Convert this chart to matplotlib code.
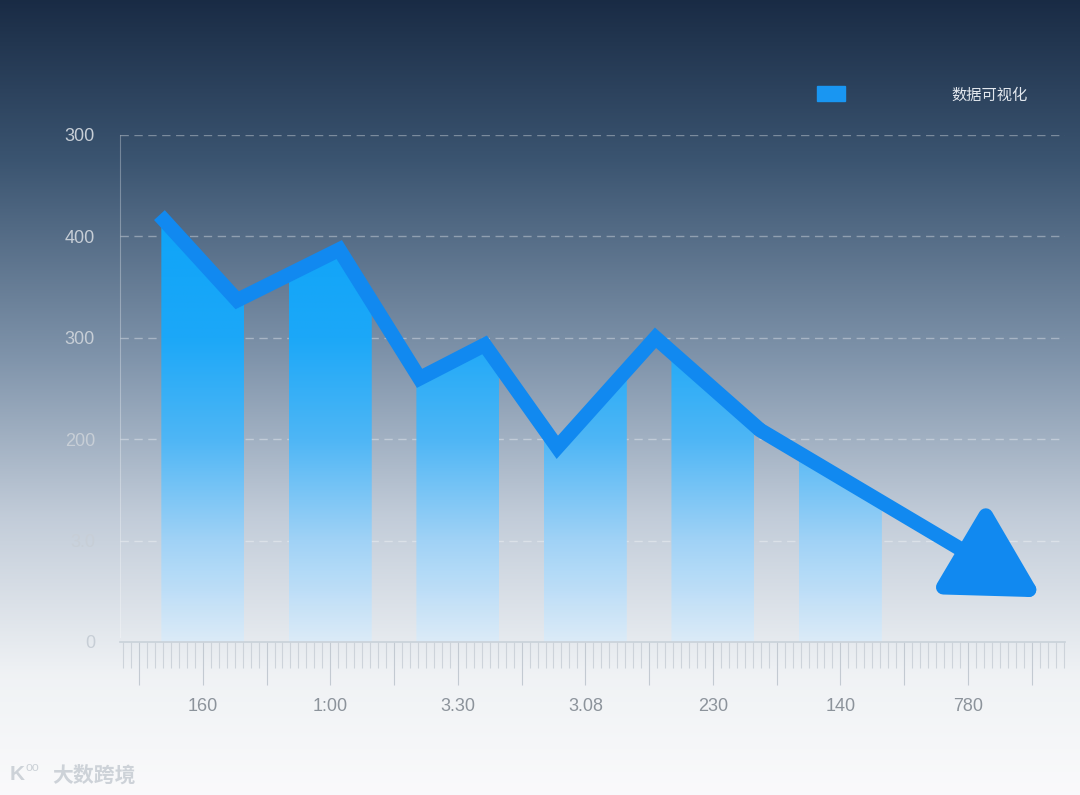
import numpy as np
import matplotlib
matplotlib.use("Agg")
import matplotlib.pyplot as plt
from matplotlib.patches import Polygon
from matplotlib.ticker import MultipleLocator

plt.rcParams['font.family'] = ['Liberation Sans', 'Noto Sans CJK SC', 'DejaVu Sans']

# ---- data ----
x_labels = ["160", "1:00", "3.30", "3.08", "230", "140", "780"]
y_ticks = [0, 100, 200, 300, 400, 500]
y_labels = ["0", "3.0", "200", "300", "400", "300"]
bar_pos = [0, 1, 2, 3, 4, 5]
bar_width = 0.65
# trend line (bars are filled up to this line)
line_x = [-0.34, 0.27, 1.07, 1.70, 2.21, 2.78, 3.55, 4.37]
line_y = [421, 337, 387, 260, 293, 192, 300, 209]
arrow_tip = (6.58, 44)
legend_label = "数据可视化"

LINE_C = "#1189f0"

fig = plt.figure(figsize=(10.8, 7.95), dpi=100)

# background gradient (dark navy top -> near white bottom)
bg = fig.add_axes([0, 0, 1, 1], zorder=-10)
stops = np.array([0.0, 0.2, 0.45, 0.65, 0.85, 1.0])
cols = np.array([
    [0.10, 0.17, 0.27],
    [0.23, 0.33, 0.44],
    [0.50, 0.58, 0.67],
    [0.76, 0.80, 0.85],
    [0.94, 0.95, 0.96],
    [0.98, 0.98, 0.985],
])
t = np.linspace(0, 1, 400)
grad = np.stack([np.interp(t, stops, cols[:, k]) for k in range(3)], axis=-1)
bg.imshow(grad[:, None, :], aspect="auto", extent=[0, 1, 0, 1], origin="upper")
bg.axis("off")

ax = fig.add_axes([0.111, 0.1925, 0.875, 0.6377])
ax.set_facecolor("none")
ax.set_xlim(-0.65, 6.76)
ax.set_ylim(0, 500)

# gradient-filled bars, tops clipped by the trend line
all_lx = line_x + [arrow_tip[0]]
all_ly = line_y + [arrow_tip[1]]
ygrid = np.linspace(500, 0, 300)
c_stops = [0, 100, 200, 300, 420, 500]
c_vals = np.array([
    [218, 236, 250],
    [160, 210, 246],
    [78, 182, 245],
    [28, 168, 248],
    [14, 164, 248],
    [14, 164, 248],
]) / 255.0
rgba = np.ones((300, 1, 4))
for k in range(3):
    rgba[:, 0, k] = np.interp(ygrid, c_stops, c_vals[:, k])
rgba[:, 0, 3] = np.interp(ygrid, [0, 60, 500], [0.85, 1.0, 1.0])
for c in bar_pos:
    x0, x1 = c - bar_width / 2, c + bar_width / 2
    xs = np.linspace(x0, x1, 60)
    ys = np.interp(xs, all_lx, all_ly)
    verts = [(x0, 0)] + list(zip(xs, ys)) + [(x1, 0)]
    poly = Polygon(verts, closed=True, facecolor="none", edgecolor="none")
    ax.add_patch(poly)
    im = ax.imshow(rgba, aspect="auto", extent=[x0, x1, 0, 500], origin="upper", zorder=2)
    im.set_clip_path(poly)

# grid
for y in y_ticks[1:]:
    ax.axhline(y, color="white", alpha=0.35, lw=1.0, ls=(0, (6, 4)), zorder=1)

ax.plot(line_x, line_y, color=LINE_C, lw=10.5, solid_joinstyle="miter",
        solid_capstyle="butt", zorder=4)
ax.annotate("", xy=arrow_tip, xytext=(line_x[-1], line_y[-1]),
            arrowprops=dict(arrowstyle="-|>,head_length=2.7,head_width=1.5",
                            lw=10.5, color=LINE_C, shrinkA=0, shrinkB=0,
                            mutation_scale=20, joinstyle="round"),
            zorder=4)

# spines / ticks
for s in ["top", "right"]:
    ax.spines[s].set_visible(False)
ax.spines["left"].set_color((1, 1, 1, 0.3))
ax.spines["left"].set_bounds(5, 500)
ax.spines["bottom"].set_color("#c9d1d9")
ax.spines["bottom"].set_linewidth(1.2)

ax.set_yticks(y_ticks)
ax.set_yticklabels(y_labels)
ax.tick_params(axis="y", length=0, pad=18, labelsize=13, labelcolor="#c7ced6")

maj = np.arange(-0.5, 6.6, 0.5)
ax.set_xticks(maj)
lab = []
for m in maj:
    i = int(round(m))
    lab.append(x_labels[i] if abs(m - i) < 1e-6 and 0 <= i < len(x_labels) else "")
ax.set_xticklabels(lab)
ax.xaxis.set_minor_locator(MultipleLocator(0.0625))
ax.tick_params(axis="x", which="major", length=31, width=0.8, color="#c3cad2",
               pad=9, labelsize=13, labelcolor="#8c939b")
ax.tick_params(axis="x", which="minor", length=19, width=0.8, color="#cdd3da")

# legend
fig.patches.append(plt.Rectangle((817 / 1080, 1 - 101 / 795), 28 / 1080, 15 / 795,
                                 transform=fig.transFigure, color="#1996f2"))
fig.text(951 / 1080, 1 - 95 / 795, legend_label, fontsize=11, color="#e3e8ee",
         va="center", ha="left", family=["Noto Sans CJK SC", "DejaVu Sans"])

# watermark
fig.text(10 / 1080, 1 - 775 / 795, "K", fontsize=15, color="#cdd2d8",
         va="center", ha="left", fontweight="bold")
fig.text(26 / 1080, 1 - 768 / 795, "oo", fontsize=9, color="#cdd2d8",
         va="center", ha="left")
fig.text(52 / 1080, 1 - 775 / 795, "大数跨境", fontsize=15, color="#cdd2d8",
         va="center", ha="left", fontweight="bold",
         family=["Noto Sans CJK SC", "DejaVu Sans"])

fig.savefig("out.png", dpi=100)
